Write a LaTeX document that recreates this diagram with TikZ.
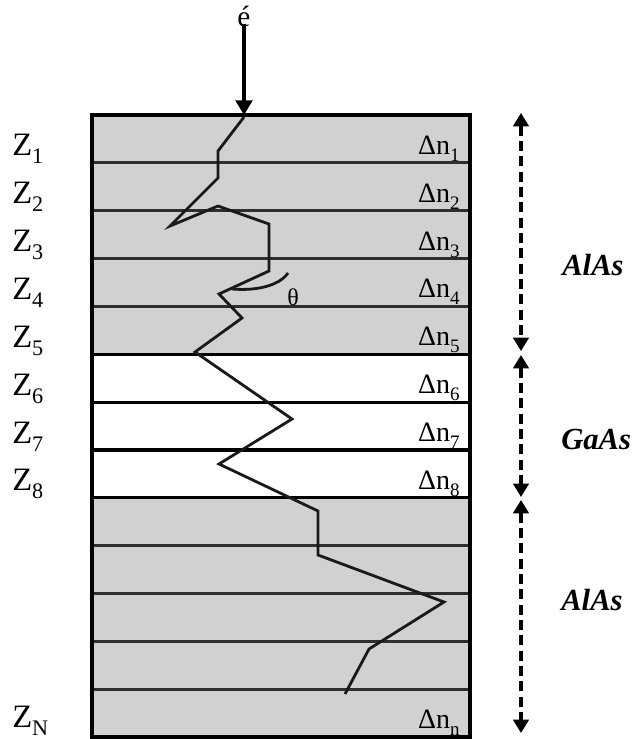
\documentclass[tikz,border=0pt]{standalone}
\usepackage{fontspec}
\setmainfont{Liberation Serif}
\usetikzlibrary{arrows.meta}
% lowered, reduced index after a symbol
\newcommand\lowsub[1]{\raisebox{-0.25em}{\scalebox{0.68}{#1}}}

\begin{document}
\begin{tikzpicture}[x=0.75pt,y=-0.75pt,
  zlabel/.style={anchor=base west,inner sep=0pt,font=\fontsize{24.5}{24.5}\selectfont},
  dnlabel/.style={anchor=base east,inner sep=0pt,font=\fontsize{21}{21}\selectfont},
  matlabel/.style={anchor=base west,inner sep=0pt,font=\fontsize{23}{23}\selectfont\bfseries\itshape},
  alasfill/.style={fill=black!18},
  thinsep/.style={draw=black!82,line width=2.2pt},
  boldsep/.style={draw=black,line width=2.4pt},
  layerspan/.style={{Triangle[length=10pt,width=11.5pt]}-{Triangle[length=10pt,width=11.5pt]},
    dash pattern=on 7.5pt off 4pt,line width=2.4pt},
  path/.style={draw=black!90,line width=2.1pt,line join=miter}
]
\useasboundingbox (0,0) rectangle (635,739);

% shaded AlAs layers
\foreach \i in {0,...,4,8,9,...,12}
  \fill[alasfill] (92,{115+47.85*\i}) rectangle (470,{115+47.85*(\i+1)});

% interfaces inside the AlAs stacks
\foreach \i in {1,2,3,4,9,10,11,12}
  \draw[thinsep] (92,{115+47.85*\i}) -- (470,{115+47.85*\i});
% interfaces around the GaAs layers
\foreach \i in {5,6,7,8}
  \draw[boldsep] (92,{115+47.85*\i}) -- (470,{115+47.85*\i});

% electron trajectory
\draw[path] (244,117) -- (218,151) -- (218,178) -- (170,226) -- (218,206)
  -- (269,224) -- (269,271) -- (219,294) -- (242,318) -- (195,352)
  -- (292,419) -- (219,464) -- (318,511) -- (318,555) -- (444,602)
  -- (369,649) -- (345,694);
% angle mark
\draw[path] (232,289) .. controls (256,291) and (279,286) .. (288,273);
\node[anchor=base,inner sep=0pt,font=\fontsize{18}{18}\selectfont] (theta) at (293,305) {θ};

% outer frame
\draw[line width=2.8pt] (92,115) rectangle (470,737);

% incident electron
\node[anchor=base,inner sep=0pt,font=\fontsize{22}{22}\selectfont] (e) at (244,26) {é};
\coordinate (entry) at (244,115);
\draw[line width=2.6pt,-{Triangle[length=11pt,width=12.5pt]}] (e.south) ++(0,-3) -- (entry);

% depth labels
\node[zlabel] (z1) at (12,155) {Z\lowsub{1}};
\node[zlabel] (z2) at (12,203) {Z\lowsub{2}};
\node[zlabel] (z3) at (12,251) {Z\lowsub{3}};
\node[zlabel] (z4) at (12,299) {Z\lowsub{4}};
\node[zlabel] (z5) at (12,347) {Z\lowsub{5}};
\node[zlabel] (z6) at (12,395) {Z\lowsub{6}};
\node[zlabel] (z7) at (12,443) {Z\lowsub{7}};
\node[zlabel] (z8) at (12,490) {Z\lowsub{8}};
\node[zlabel] (zN) at (12,727) {Z\lowsub{N}};

% index steps
\node[dnlabel] (dn1) at (460,154) {Δn\lowsub{1}};
\node[dnlabel] (dn2) at (460,202) {Δn\lowsub{2}};
\node[dnlabel] (dn3) at (460,250) {Δn\lowsub{3}};
\node[dnlabel] (dn4) at (460,297) {Δn\lowsub{4}};
\node[dnlabel] (dn5) at (460,345) {Δn\lowsub{5}};
\node[dnlabel] (dn6) at (460,393) {Δn\lowsub{6}};
\node[dnlabel] (dn7) at (460,441) {Δn\lowsub{7}};
\node[dnlabel] (dn8) at (460,489) {Δn\lowsub{8}};
\node[dnlabel] (dnn) at (460,728) {Δn\lowsub{n}};

% material extents
\coordinate (a1t) at (521,113);
\coordinate (a1b) at (521,351);
\coordinate (g1t) at (521,355);
\coordinate (g1b) at (521,497);
\coordinate (a2t) at (521,500);
\coordinate (a2b) at (521,733);
\draw[layerspan] (a1t) -- (a1b);
\draw[layerspan] (g1t) -- (g1b);
\draw[layerspan] (a2t) -- (a2b);

\node[matlabel] (alas1) at (562,275) {AlAs};
\node[matlabel] (gaas) at (561,449) {GaAs};
\node[matlabel] (alas2) at (561,610) {AlAs};
\end{tikzpicture}
\end{document}
